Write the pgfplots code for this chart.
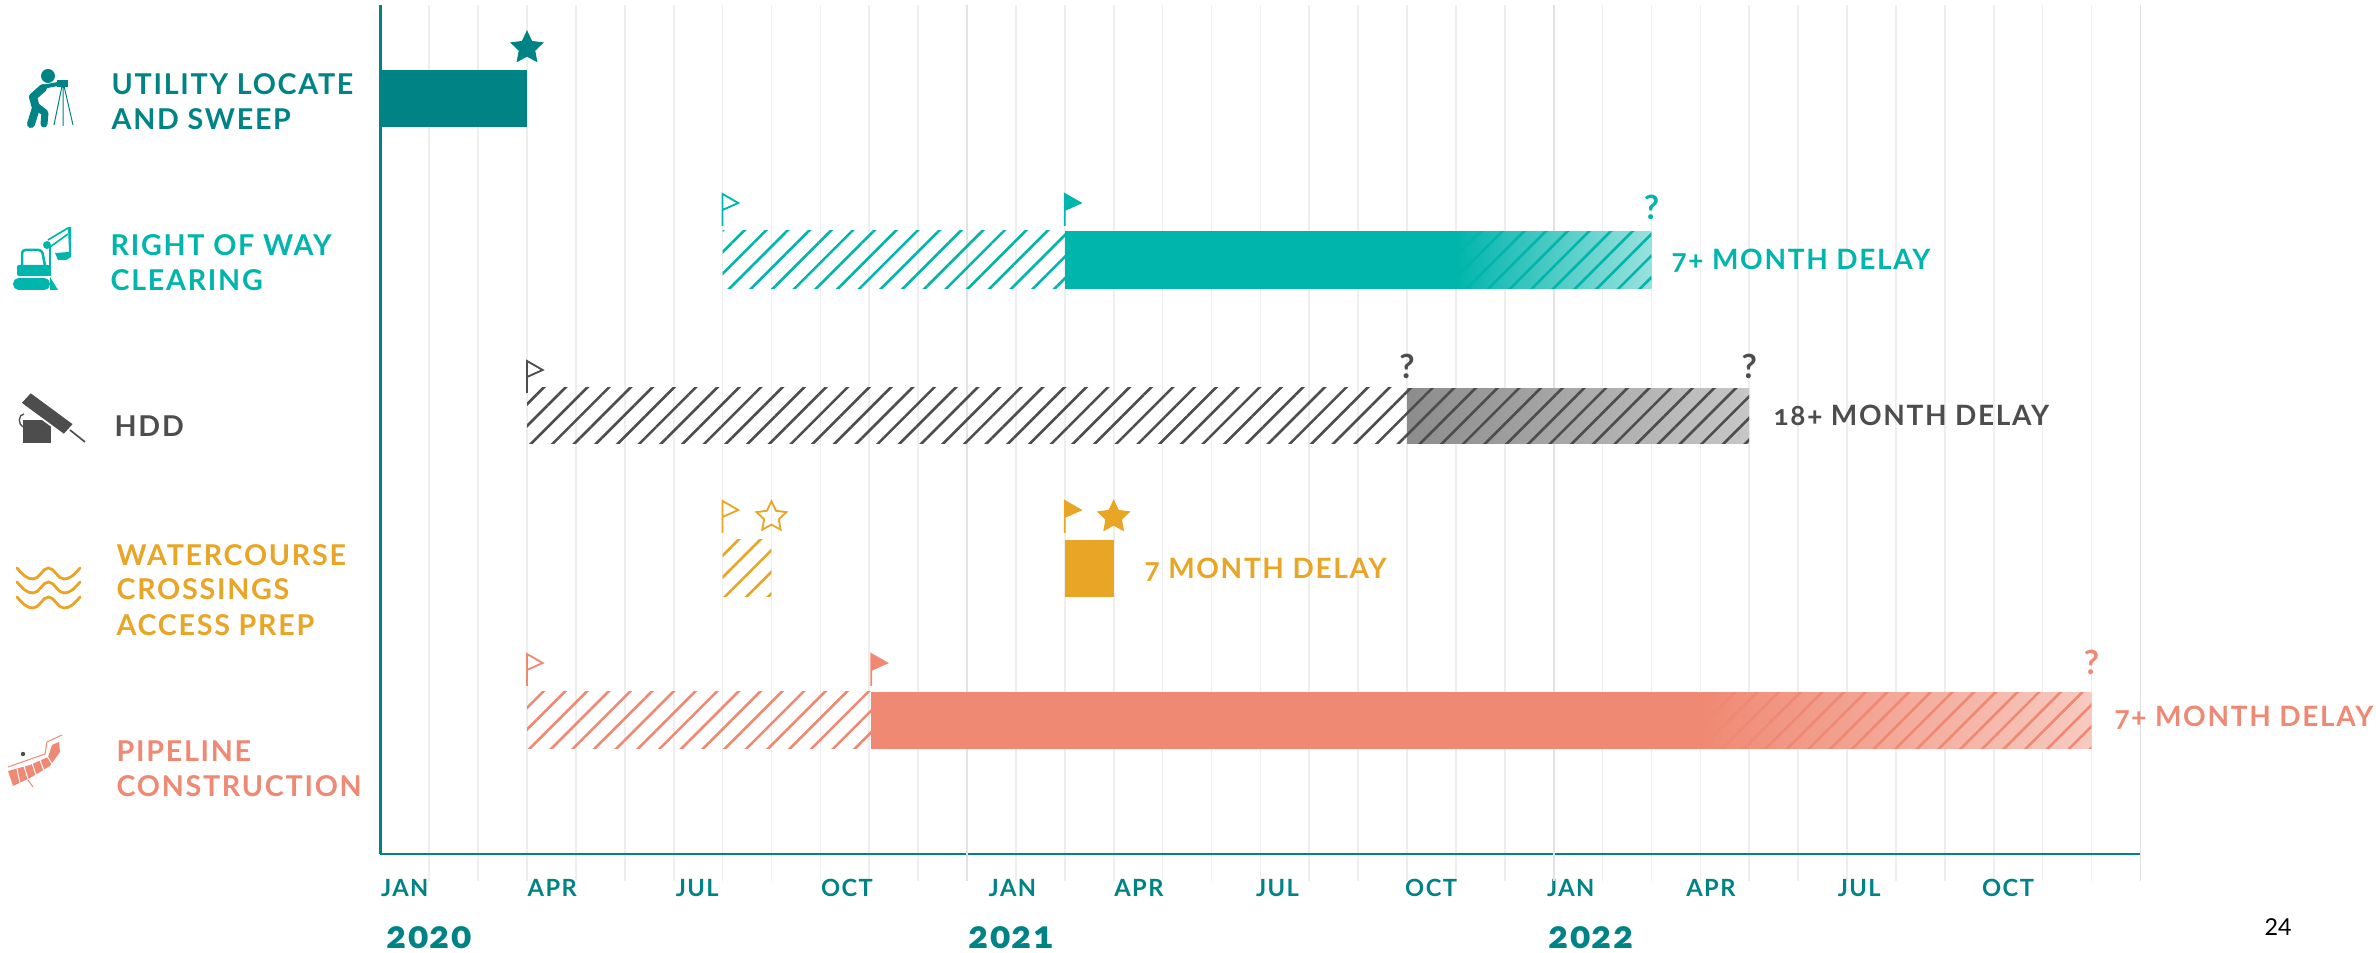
\documentclass[border=0pt]{standalone}
\usepackage{fontspec}
\setmainfont{Lato}
\newfontfamily\lat[Numbers=OldStyle,LetterSpace=6]{Lato Bold}
\newfontfamily\hvy[Numbers=OldStyle,LetterSpace=3]{Lato Black}
\usepackage{pgfplots}
\pgfplotsset{compat=1.18}
\usetikzlibrary{patterns.meta}
\definecolor{dteal}{HTML}{008385}
\definecolor{lteal}{HTML}{00B5AC}
\definecolor{ggray}{HTML}{4D4D4D}
\definecolor{amber}{HTML}{E8A526}
\definecolor{salmon}{HTML}{EF8973}
\definecolor{gridc}{HTML}{EEEEEE}
\definecolor{gridd}{HTML}{E2E2E2}

% 1 px of the reference = 0.3pt
\pgfdeclareplotmark{flagopen}{%
  \pgfpathmoveto{\pgfqpoint{0pt}{0pt}}\pgfpathlineto{\pgfqpoint{0pt}{9.6pt}}%
  \pgfpathlineto{\pgfqpoint{4.7pt}{6.9pt}}\pgfpathlineto{\pgfqpoint{0pt}{4.8pt}}%
  \pgfusepathqstroke}
\pgfdeclareplotmark{flagfull}{%
  \pgfpathmoveto{\pgfqpoint{0pt}{0pt}}\pgfpathlineto{\pgfqpoint{0pt}{9.6pt}}%
  \pgfpathlineto{\pgfqpoint{4.7pt}{6.9pt}}\pgfpathlineto{\pgfqpoint{0pt}{4.8pt}}%
  \pgfpathclose\pgfusepathqfillstroke}
\newcommand\starpath{%
  \pgfpathmoveto{\pgfpointpolar{90}{4.7pt}}%
  \pgfpathlineto{\pgfpointpolar{126}{2.3pt}}\pgfpathlineto{\pgfpointpolar{162}{4.7pt}}%
  \pgfpathlineto{\pgfpointpolar{198}{2.3pt}}\pgfpathlineto{\pgfpointpolar{234}{4.7pt}}%
  \pgfpathlineto{\pgfpointpolar{270}{2.3pt}}\pgfpathlineto{\pgfpointpolar{306}{4.7pt}}%
  \pgfpathlineto{\pgfpointpolar{342}{2.3pt}}\pgfpathlineto{\pgfpointpolar{18}{4.7pt}}%
  \pgfpathlineto{\pgfpointpolar{54}{2.3pt}}\pgfpathclose}
\pgfdeclareplotmark{staropen}{\starpath\pgfusepathqstroke}
\pgfdeclareplotmark{starfull}{\starpath\pgfusepathqfillstroke}

\tikzset{
  hatch/.style={draw=none,pattern={Lines[angle=45,distance=4.6pt,line width=.78pt]},pattern color=#1},
  solidbar/.style={draw=none,fill=#1},
  flag/.style n args={2}{only marks,mark=#1,mark options={draw=#2,fill=#2,line width=.55pt}},
  qmark/.style={only marks,mark=text,text mark as node=true,text mark={\fontsize{10}{10}\lat\color{#1}?},
    mark options={solid}},
  lab/.style={anchor=base west,inner sep=0pt,font=\fontsize{8.6}{10}\lat},
  dlab/.style={anchor=base west,inner sep=0pt,font=\fontsize{8.4}{10}\lat},
}

\begin{document}
\begin{tikzpicture}[x=0.3pt,y=-0.3pt]
\path[use as bounding box] (0,0) rectangle (2376,953);

\begin{axis}[
  at={(114.1pt,-256.2pt)}, anchor=south west, scale only axis,
  width=528pt, height=254.7pt,
  xmin=0, xmax=36, ymin=99, ymax=948, clip=false,
  axis lines=left, axis line style={-,dteal,line width=.8pt},
  ytick=\empty,
  xtick={0,3,6.03,9,12.43,15,17.9,20.95,23.85,26.7,29.8,32.75},
  xticklabels={JAN,APR,JUL,OCT,JAN,APR,JUL,OCT,JAN,APR,JUL,OCT},
  major tick length=0pt,
  minor xtick={1,...,35},
  minor tick length=8pt, tick align=outside,
  minor tick style={gridc,line width=.5pt},
  xminorgrids=true, minor grid style={gridc,line width=.5pt},
  extra x ticks={12,24,36}, extra x tick labels={},
  extra x tick style={xmajorgrids=true, major tick length=8pt,
    major grid style={gridd,line width=.5pt}, major tick style={gridd,line width=.5pt}},
  xticklabel style={anchor=north west,inner sep=0pt,yshift=-7.5pt,text=dteal,
    text height=5.1pt,text depth=0pt,font=\fontsize{7.1}{8}\lat},
]
% utility locate and sweep
\addplot[solidbar=dteal] coordinates {(0,826)(3,826)(3,883)(0,883)} -- cycle;
\addplot[flag={starfull}{dteal}] coordinates {(3,905)};
% right of way clearing
\addplot[hatch=lteal] coordinates {(7,664)(14,664)(14,722)(7,722)} -- cycle;
\addplot[solidbar=lteal] coordinates {(14,664)(22,664)(22,722)(14,722)} -- cycle;
\addplot[draw=none,left color=lteal,right color=lteal!40] coordinates {(22,664.6)(26,664.6)(26,721.4)(22,721.4)} -- cycle;
\addplot[hatch=lteal] coordinates {(22,664.6)(26,664.6)(26,721.4)(22,721.4)} -- cycle;
\addplot[flag={flagopen}{lteal}] coordinates {(7,727)};
\addplot[flag={flagfull}{lteal}] coordinates {(14,727)};
\addplot[qmark=lteal] coordinates {(26,746)};
% hdd
\addplot[hatch=ggray] coordinates {(3,509)(21,509)(21,565)(3,565)} -- cycle;
\addplot[draw=none,left color=black!45,right color=black!22] coordinates {(21,509.6)(28,509.6)(28,564.4)(21,564.4)} -- cycle;
\addplot[hatch=ggray] coordinates {(21,509.6)(28,509.6)(28,564.4)(21,564.4)} -- cycle;
\addplot[flag={flagopen}{ggray}] coordinates {(3,560)};
\addplot[qmark=ggray] coordinates {(21,587)(28,587)};
% watercourse crossings access prep
\addplot[hatch=amber] coordinates {(7,356)(8,356)(8,413)(7,413)} -- cycle;
\addplot[solidbar=amber] coordinates {(14,356)(15,356)(15,413)(14,413)} -- cycle;
\addplot[flag={flagopen}{amber}] coordinates {(7,420)};
\addplot[flag={flagfull}{amber}] coordinates {(14,420)};
\addplot[flag={staropen}{amber}] coordinates {(8,436)};
\addplot[flag={starfull}{amber}] coordinates {(15,436)};
% pipeline construction
\addplot[hatch=salmon] coordinates {(3,204)(10.04,204)(10.04,261)(3,261)} -- cycle;
\addplot[solidbar=salmon] coordinates {(10.04,204)(27,204)(27,261)(10.04,261)} -- cycle;
\addplot[draw=none,left color=salmon,right color=salmon!45] coordinates {(27,204.6)(35,204.6)(35,260.4)(27,260.4)} -- cycle;
\addplot[hatch=salmon] coordinates {(27,204.6)(35,204.6)(35,260.4)(27,260.4)} -- cycle;
\addplot[flag={flagopen}{salmon}] coordinates {(3,267)};
\addplot[flag={flagfull}{salmon}] coordinates {(10.04,267)};
\addplot[qmark=salmon] coordinates {(35,291)};
\end{axis}

% row labels
\node[lab,text=dteal] at (111,95) {UTILITY LOCATE};
\node[lab,text=dteal] at (111,130) {AND SWEEP};
\node[lab,text=lteal] at (110,256) {RIGHT OF WAY};
\node[lab,text=lteal] at (110,291) {CLEARING};
\node[lab,text=ggray] at (114,437) {HDD};
\node[lab,text=amber] at (116,566) {WATERCOURSE};
\node[lab,text=amber] at (116,600) {CROSSINGS};
\node[lab,text=amber] at (116,636) {ACCESS PREP};
\node[lab,text=salmon] at (116,762) {PIPELINE};
\node[lab,text=salmon] at (116,797) {CONSTRUCTION};
% delay labels
\node[dlab,text=lteal] at (1671,270) {7+ MONTH DELAY};
\node[dlab,text=ggray] at (1773,426) {18+ MONTH DELAY};
\node[dlab,text=amber] at (1144,579) {7 MONTH DELAY};
\node[dlab,text=salmon] at (2114,727) {7+ MONTH DELAY};
% years and page number
\foreach \x/\y in {386/2020,968/2021,1548/2022}
  \node[anchor=base west,inner sep=0pt,text=dteal,font=\fontsize{11.3}{12}\hvy] at (\x,948) {\y};
\node[anchor=base west,inner sep=0pt,font=\fontsize{7}{8}\selectfont] at (2264,936) {24};

% icons
% surveyor
\fill[dteal] (48,76) circle (7);
\draw[dteal,line width=2.4pt,line cap=round,line join=round] (43,88) -- (33,97) -- (36,108) -- (31,124);
\draw[dteal,line width=2.1pt,line cap=round,line join=round] (36,106) -- (45,113) -- (44,124);
\draw[dteal,line width=1.2pt,line cap=round] (42,87) -- (58,84);
\fill[dteal] (57,80) rectangle (68,87);
\draw[dteal,line width=.3pt] (62,86) -- (54,125) (63,86) -- (63,126) (64,86) -- (73,125);
% excavator
\fill[lteal,rounded corners=1.7pt] (13,278) rectangle (50,290);
\fill[lteal] (50,277) -- (58,290) -- (50,290) -- cycle;
\fill[lteal,rounded corners=.6pt] (17,265) rectangle (50,276);
\draw[lteal,line width=.75pt,rounded corners=1pt] (22,271) -- (22,250) -- (42,250) -- (46,271);
\fill[lteal] (47,245) circle (4);
\draw[lteal,line width=.5pt] (48,240) -- (68,228) (50,247) -- (68,234) (50,247) -- (50,276);
\fill[lteal] (68,227) -- (71,227) -- (71,257) -- (66,260) -- (58,260) -- (55,253) -- (69,252) -- cycle;
% hdd drill
\fill[ggray] (23,420) rectangle (51,443);
\draw[ggray,line width=.4pt] (24,414) .. controls (18,414) and (18,425) .. (23,427);
\fill[ggray,draw=white,line width=.5pt] (30.6,392) -- (20.4,403) -- (64,435) -- (74,424) -- cycle;
\draw[ggray,line width=.5pt] (70,430) -- (85,442);
% waves
\foreach \y in {573,587,602}
  \draw[amber,line width=.85pt,line cap=round] (17,\y-5) .. controls (23,\y+2) and (27,\y+6) .. (33,\y+6)
    .. controls (40,\y+6) and (42,\y-5) .. (48.5,\y-5)
    .. controls (55,\y-5) and (57,\y+6) .. (64,\y+6)
    .. controls (70,\y+6) and (74,\y+2) .. (80,\y-5);
% pipe
\fill[salmon] (8,771) -- (13,786) -- (30,778) -- (50,766) -- (60,752) -- (59,742) -- (52,745) -- (48,757) -- (30,765) -- cycle;
\draw[white,line width=.3pt] (17,769) -- (20,783) (24,766) -- (28,779) (32,763) -- (36,775) (40,760) -- (44,771) (47,756) -- (52,764);
\draw[salmon,line width=.3pt] (8,767) -- (45,754) -- (47,742) -- (62,735) (28,780) -- (33,787);
\fill[ggray] (23,754) circle (2.2);
\end{tikzpicture}
\end{document}
